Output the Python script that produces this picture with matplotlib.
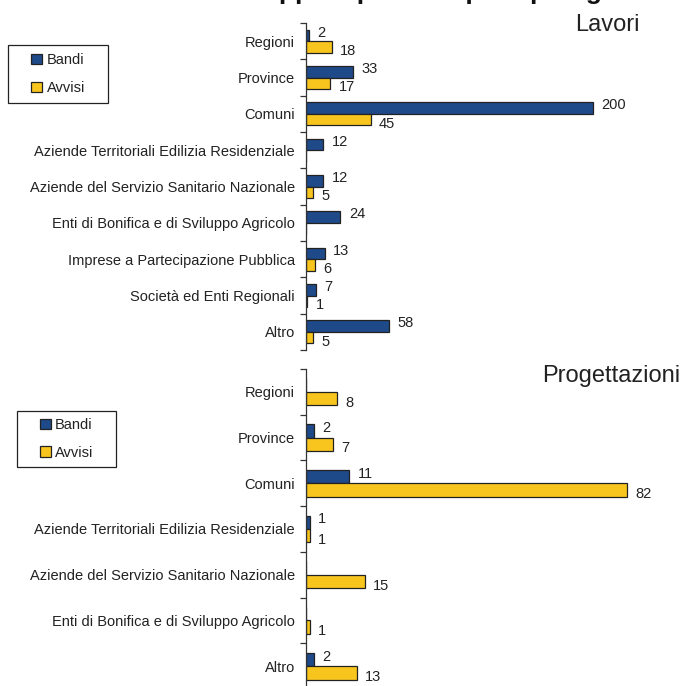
import matplotlib
matplotlib.use("Agg")
import matplotlib.pyplot as plt
from matplotlib.patches import Patch, Rectangle

plt.rcParams['font.family'] = ['Liberation Sans', 'DejaVu Sans']

# data
cat_lavori = ["Regioni", "Province", "Comuni",
              "Aziende Territoriali Edilizia Residenziale",
              "Aziende del Servizio Sanitario Nazionale",
              "Enti di Bonifica e di Sviluppo Agricolo",
              "Imprese a Partecipazione Pubblica",
              "Società ed Enti Regionali", "Altro"]
bandi_lavori = [2, 33, 200, 12, 12, 24, 13, 7, 58]
avvisi_lavori = [18, 17, 45, 0, 5, 0, 6, 1, 5]

cat_prog = ["Regioni", "Province", "Comuni",
            "Aziende Territoriali Edilizia Residenziale",
            "Aziende del Servizio Sanitario Nazionale",
            "Enti di Bonifica e di Sviluppo Agricolo", "Altro"]
bandi_prog = [0, 2, 11, 1, 0, 0, 2]
avvisi_prog = [8, 7, 82, 1, 15, 1, 13]

BLUE = '#1F4A8A'
YELLOW = '#F8C51E'
EDGE = '#222222'
TXT = '#222222'
W, H = 680, 686


def px_box(left, top, right, bottom):
    # pixel box -> figure fraction [l, b, w, h]
    return [left / W, 1 - bottom / H, (right - left) / W, (bottom - top) / H]


def draw_panel(ax, cats, bandi, avvisi, h, xmax):
    n = len(cats)
    ypos = list(range(n))
    ax.barh([y - h / 2 for y in ypos], bandi, height=h, color=BLUE,
            edgecolor=EDGE, linewidth=0.9)
    ax.barh([y + h / 2 for y in ypos], avvisi, height=h, color=YELLOW,
            edgecolor=EDGE, linewidth=0.9)
    for y, b, a in zip(ypos, bandi, avvisi):
        if b:
            ax.annotate(str(b), (b, y - h / 2), xytext=(6, 2),
                        textcoords='offset points', ha='left', va='center',
                        fontsize=10.5, color=TXT)
        if a:
            ax.annotate(str(a), (a, y + h / 2), xytext=(6, -3),
                        textcoords='offset points', ha='left', va='center',
                        fontsize=10.5, color=TXT)
    ax.set_xlim(0, xmax)
    ax.set_ylim(n - 0.5, -0.5)
    ax.set_yticks(ypos)
    ax.set_yticklabels(cats, fontsize=10.5, color=TXT)
    ax.set_yticks([i - 0.5 for i in range(n + 1)], minor=True)
    ax.tick_params(axis='y', which='major', length=0, pad=8)
    ax.tick_params(axis='y', which='minor', length=4, width=0.9,
                   color='#333333', direction='out')
    ax.xaxis.set_visible(False)
    for s in ['top', 'right', 'bottom']:
        ax.spines[s].set_visible(False)
    ax.spines['left'].set_color('#333333')
    ax.spines['left'].set_linewidth(0.9)
    ax.set_facecolor('none')


fig = plt.figure(figsize=(6.8, 6.86), dpi=100)

ax1 = fig.add_axes(px_box(306, 23, 306 + 250 * 1.435, 350))
draw_panel(ax1, cat_lavori, bandi_lavori, avvisi_lavori, 0.317, 250)

ax2 = fig.add_axes(px_box(306, 369, 306 + 90 * 3.915, 689))
draw_panel(ax2, cat_prog, bandi_prog, avvisi_prog, 0.295, 90)

# cropped title and panel titles
fig.text(50 / W, 1 + 0.5 / H, "Bandi e avvisi di appalti pubblici per tipologia",
         ha='left', va='baseline', fontsize=19, fontweight='bold', color='#111111')
fig.text(640 / W, 1 - 31 / H, "Lavori", ha='right', va='baseline',
         fontsize=17, color=TXT)
fig.text(680 / W, 1 - 382 / H, "Progettazioni", ha='right', va='baseline',
         fontsize=17, color=TXT)

# legends with square boxes
handles = [Patch(facecolor=BLUE, edgecolor=EDGE, linewidth=0.9, label='Bandi'),
           Patch(facecolor=YELLOW, edgecolor=EDGE, linewidth=0.9, label='Avvisi')]
for (l, t, r, b) in [(8, 45, 108, 103), (17, 411, 116, 467)]:
    fig.patches.append(Rectangle((l / W, 1 - b / H), (r - l) / W, (b - t) / H,
                                 transform=fig.transFigure, facecolor='white',
                                 edgecolor='#222222', linewidth=0.9))
    fig.legend(handles=handles, loc='center',
               bbox_to_anchor=((l + r) / 2 / W, 1 - (t + b) / 2 / H),
               frameon=False, fontsize=10.5, handlelength=0.75,
               handleheight=0.75, handletextpad=0.3, labelspacing=0.95,
               borderpad=0, labelcolor=TXT)

fig.savefig("out.png", dpi=100)
